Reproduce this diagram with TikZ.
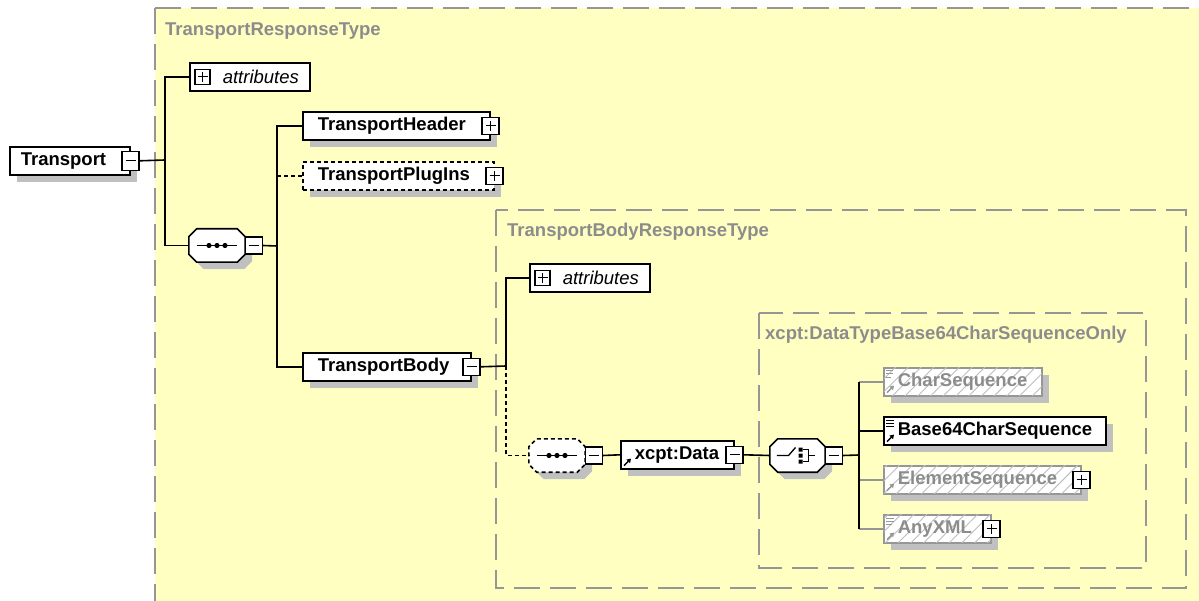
\documentclass[tikz,border=0pt]{standalone}
\usepackage{fontspec}
\setmainfont{Liberation Sans}
\usetikzlibrary{shadows,patterns.meta,calc,arrows.meta}
\definecolor{yellowbg}{RGB}{255,255,194}
\definecolor{dashgray}{RGB}{150,150,150}
\definecolor{titlegray}{RGB}{140,140,140}
\definecolor{shadowgray}{RGB}{192,192,192}
\definecolor{grayline}{RGB}{150,150,150}
\definecolor{hatchgray}{RGB}{190,190,190}
\newcommand\dgfont{\fontsize{18.5pt}{22pt}\selectfont}
\begin{document}
\begin{tikzpicture}[x=1pt,y=-1pt,
  shadowed/.style={drop shadow={shadow xshift=7pt,shadow yshift=-7pt,fill=shadowgray,opacity=1}},
  elem/.style={shadowed,draw=black,line width=1.6pt,fill=white,font=\dgfont\bfseries,
    inner xsep=0pt,inner ysep=0pt,minimum height=28pt,align=left,anchor=north west},
  grayelem/.style={elem,draw=grayline,text=titlegray,
    postaction={pattern={Lines[angle=45,distance=9pt,line width=0.9pt]},pattern color=hatchgray}},
  attr/.style={draw=black,line width=1.6pt,fill=white,font=\dgfont\itshape,
    inner xsep=0pt,inner ysep=0pt,minimum height=28pt,align=left,anchor=north west},
  xbox/.style={draw=black,line width=1.3pt,fill=white,minimum size=17pt,inner sep=0pt},
  sign/.style={line width=1.3pt,black},
  comp/.style={rectangle,minimum width=56pt,minimum height=33pt,inner sep=0pt,draw=none},
  octa/.style={shadowed,draw=black,fill=white,line width=1.6pt,line join=miter},
  conn/.style={line width=1.6pt,black},
  gconn/.style={line width=1.6pt,grayline},
  typebox/.style={draw=dashgray,line width=1.6pt,dash pattern=on 26pt off 10pt},
  title/.style={font=\dgfont\bfseries,text=titlegray,anchor=west,inner sep=0pt},
  shortdash/.style={dash pattern=on 4pt off 3pt},
  refarrow/.style={line width=1.3pt,-{Triangle[length=4pt,width=5pt]}},
  icolines/.style={line width=1pt}
]
\useasboundingbox (0,0) rectangle (1199,601);
\fill[white] (0,0) rectangle (1199,601);
\clip (0,0) rectangle (1199,601);

% type boxes
\filldraw[fill=yellowbg,typebox] (155,8) rectangle (1225,625);
\draw[typebox] (496,210) rectangle (1186,588);
\draw[typebox] (759,313) rectangle (1146,568);
\node[title] (t1) at (165,31) {TransportResponseType};
\node[title] (t2) at (507,232) {TransportBodyResponseType};
\node[title] (t3) at (765,335) {xcpt:DataTypeBase64CharSequenceOnly};

% Transport
\node[elem,text width=120pt] (tr) at (9,146) {\hspace*{11pt}Transport};
\node[xbox,minimum height=19pt] (trx) at (tr.east) {};
\draw[sign] ($(trx.center)+(-5,0)$) -- +(10,0);

% attributes 1
\node[attr,text width=120pt] (a1) at (189,62) {\hspace*{33pt}attributes};
\node[xbox,minimum size=15pt] (a1x) at ($(a1.west)+(13.5,0)$) {};
\draw[sign] ($(a1x.center)+(-5,0)$) -- +(10,0) ($(a1x.center)+(0,-5)$) -- +(0,10);

% sequence 1
\node[comp] (sq) at (217,245.5) {};
\filldraw[octa] ($(sq.north west)+(8,0)$) -- ($(sq.north east)+(-8,0)$) -- ($(sq.north east)+(0,8)$)
  -- ($(sq.south east)+(0,-8)$) -- ($(sq.south east)+(-8,0)$) -- ($(sq.south west)+(8,0)$)
  -- ($(sq.south west)+(0,-8)$) -- ($(sq.north west)+(0,8)$) -- cycle;
\draw[line width=1.3pt] ($(sq.west)+(8,0)$) -- ($(sq.east)+(-8,0)$);
\fill ($(sq.center)+(-8,0)$) circle (2.6pt) (sq.center) circle (2.6pt) ($(sq.center)+(8,0)$) circle (2.6pt);
\node[xbox] (sqx) at ($(sq.east)+(8.5,0)$) {};
\draw[sign] ($(sqx.center)+(-5,0)$) -- +(10,0);

% TransportHeader
\node[elem,text width=187pt] (th) at (302,111) {\hspace*{15pt}TransportHeader};
\node[xbox] (thx) at (th.east) {};
\draw[sign] ($(thx.center)+(-5,0)$) -- +(10,0) ($(thx.center)+(0,-5)$) -- +(0,10);

% TransportPlugIns
\node[elem,shortdash,text width=191pt] (tpi) at (302,161) {\hspace*{15pt}TransportPlugIns};
\node[xbox] (tpix) at (tpi.east) {};
\draw[sign] ($(tpix.center)+(-5,0)$) -- +(10,0) ($(tpix.center)+(0,-5)$) -- +(0,10);

% TransportBody
\node[elem,text width=168pt] (tb) at (302,352) {\hspace*{15pt}TransportBody};
\node[xbox] (tbx) at (tb.east) {};
\draw[sign] ($(tbx.center)+(-5,0)$) -- +(10,0);

% attributes 2
\node[attr,text width=120pt] (a2) at (529,263) {\hspace*{33pt}attributes};
\node[xbox,minimum size=15pt] (a2x) at ($(a2.west)+(13.5,0)$) {};
\draw[sign] ($(a2x.center)+(-5,0)$) -- +(10,0) ($(a2x.center)+(0,-5)$) -- +(0,10);

% sequence 2 (optional)
\node[comp] (sq2) at (557,455.5) {};
\filldraw[octa,shortdash] ($(sq2.north west)+(8,0)$) -- ($(sq2.north east)+(-8,0)$) -- ($(sq2.north east)+(0,8)$)
  -- ($(sq2.south east)+(0,-8)$) -- ($(sq2.south east)+(-8,0)$) -- ($(sq2.south west)+(8,0)$)
  -- ($(sq2.south west)+(0,-8)$) -- ($(sq2.north west)+(0,8)$) -- cycle;
\draw[line width=1.3pt] ($(sq2.west)+(8,0)$) -- ($(sq2.east)+(-8,0)$);
\fill ($(sq2.center)+(-8,0)$) circle (2.6pt) (sq2.center) circle (2.6pt) ($(sq2.center)+(8,0)$) circle (2.6pt);
\node[xbox] (sq2x) at ($(sq2.east)+(8.5,0)$) {};
\draw[sign] ($(sq2x.center)+(-5,0)$) -- +(10,0);

% xcpt:Data
\node[elem,text width=113pt] (xd) at (620,440) {\hspace*{14pt}xcpt:Data};
\draw[refarrow] ($(xd.south west)+(4,-4)$) -- +(7,-7);
\node[xbox] (xdx) at (xd.east) {};
\draw[sign] ($(xdx.center)+(-5,0)$) -- +(10,0);

% choice
\node[comp,minimum width=55pt] (ch) at (797.5,455.5) {};
\filldraw[octa] ($(ch.north west)+(8,0)$) -- ($(ch.north east)+(-8,0)$) -- ($(ch.north east)+(0,8)$)
  -- ($(ch.south east)+(0,-8)$) -- ($(ch.south east)+(-8,0)$) -- ($(ch.south west)+(8,0)$)
  -- ($(ch.south west)+(0,-8)$) -- ($(ch.north west)+(0,8)$) -- cycle;
\draw[line width=1.3pt] ($(ch.west)+(7,0)$) -- ($(ch.center)+(-9,0)$) -- ($(ch.center)+(-2,-8)$);
\fill ($(ch.center)+(1,-8)$) rectangle +(4,4) ($(ch.center)+(1,-2)$) rectangle +(4,4) ($(ch.center)+(1,4)$) rectangle +(4,4);
\draw[line width=1.3pt] ($(ch.center)+(5,-6)$) -- ($(ch.center)+(11,-6)$) -- ($(ch.center)+(11,6)$) -- ($(ch.center)+(5,6)$)
  ($(ch.center)+(11,0)$) -- ($(ch.center)+(17,0)$);
\node[xbox] (chx) at ($(ch.east)+(8.5,0)$) {};
\draw[sign] ($(chx.center)+(-5,0)$) -- +(10,0);

% choice members
\node[grayelem,text width=158pt] (cs) at (883,367) {\hspace*{14pt}CharSequence};
\draw[icolines,grayline] ($(cs.north west)+(3,4)$) -- +(7,0) ($(cs.north west)+(3,7)$) -- +(7,0) ($(cs.north west)+(3,10)$) -- +(5,0);
\draw[refarrow,grayline] ($(cs.south west)+(4,-4)$) -- +(7,-7);

\node[elem,text width=222pt] (b64) at (883,416) {\hspace*{14pt}Base64CharSequence};
\draw[icolines] ($(b64.north west)+(3,4)$) -- +(8,0) ($(b64.north west)+(3,7)$) -- +(8,0) ($(b64.north west)+(3,10)$) -- +(8,0);
\draw[refarrow] ($(b64.south west)+(4,-4)$) -- +(7,-7);

\node[grayelem,text width=197pt] (es) at (883,465) {\hspace*{14pt}ElementSequence};
\draw[refarrow,grayline] ($(es.south west)+(4,-4)$) -- +(7,-7);
\node[xbox] (esx) at (es.east) {};
\draw[sign] ($(esx.center)+(-5,0)$) -- +(10,0) ($(esx.center)+(0,-5)$) -- +(0,10);

\node[grayelem,text width=107pt] (ax) at (883,514) {\hspace*{14pt}AnyXML};
\draw[icolines,grayline] ($(ax.north west)+(3,4)$) -- +(8,0) ($(ax.north west)+(3,7)$) -- +(8,0) ($(ax.north west)+(3,10)$) -- +(6,0);
\draw[refarrow,grayline] ($(ax.south west)+(4,-4)$) -- +(7,-7);
\node[xbox] (axx) at (ax.east) {};
\draw[sign] ($(axx.center)+(-5,0)$) -- +(10,0) ($(axx.center)+(0,-5)$) -- +(0,10);

% junctions
\coordinate (j1) at (165,160);
\coordinate (j2) at (277,246);
\coordinate (j3) at (506,366);
\coordinate (j4) at (859,455);

% connectors
\draw[conn] (trx.east) -- (j1);
\draw[conn] (a1.west) -| (j1);
\draw[conn] (sq.west) -| (j1);
\draw[conn] (sqx.east) -- (j2);
\draw[conn] (th.west) -| (j2);
\draw[conn] (tb.west) -| (j2);
\draw[conn,shortdash] (tpi.west) -- (tpi.west -| j2);
\draw[conn] (tbx.east) -- (j3);
\draw[conn] (a2.west) -| (j3);
\draw[conn,shortdash] (j3) |- (sq2.west);
\draw[conn] (sq2x.east) -- (xd.west);
\draw[conn] (xdx.east) -- (ch.west);
\draw[conn] (chx.east) -- (j4);
\draw[gconn] (cs.west) -- (cs.west -| j4);
\draw[gconn] (es.west) -- (es.west -| j4);
\draw[gconn] (ax.west) -- (ax.west -| j4);
\draw[conn] (b64.west) -- (b64.west -| j4);
\draw[conn] (cs.west -| j4) -- (ax.west -| j4);
\end{tikzpicture}
\end{document}
